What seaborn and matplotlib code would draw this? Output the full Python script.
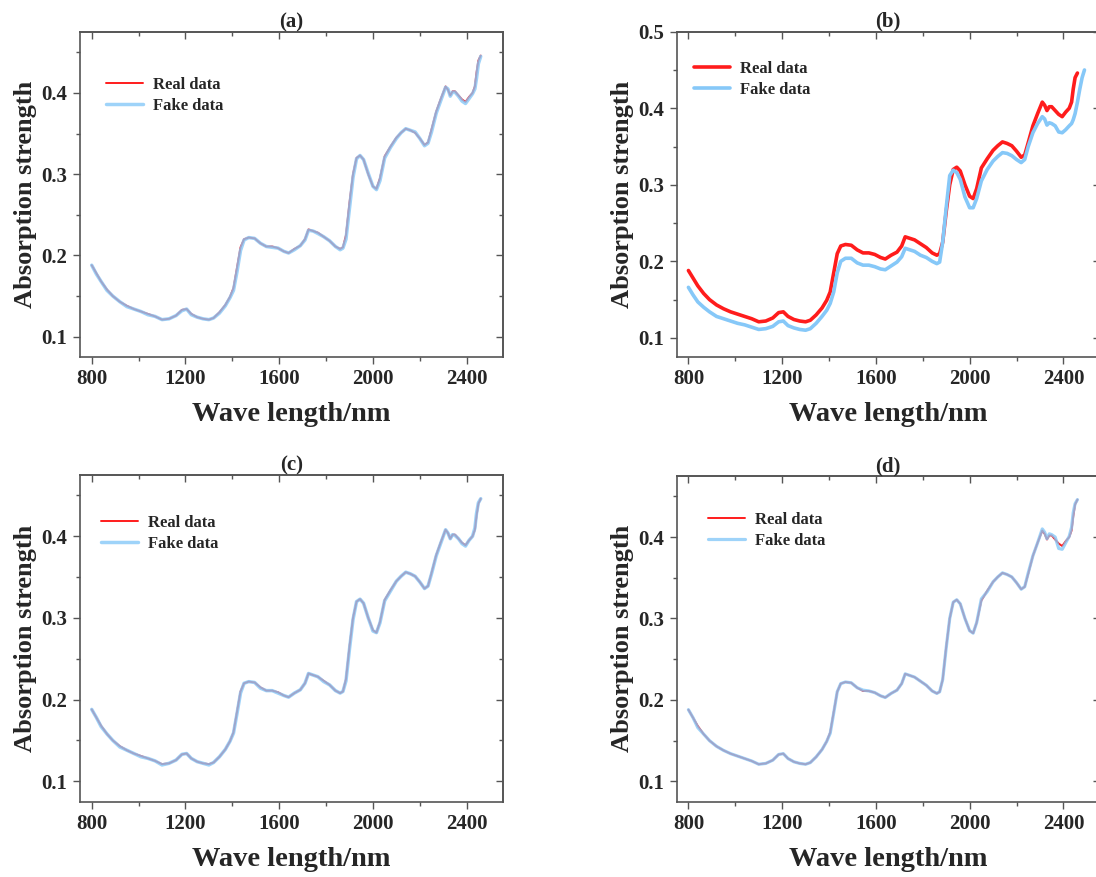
import numpy as np
import pandas as pd
import matplotlib
matplotlib.use("Agg")
import matplotlib.pyplot as plt
from matplotlib.ticker import MultipleLocator
import seaborn as sns

# ---------------- data ----------------
wavelength = [800, 820, 840, 865, 890, 920, 950, 980, 1010, 1040,
              1070, 1100, 1130, 1160, 1185, 1205, 1225, 1250, 1275, 1300,
              1320, 1345, 1370, 1390, 1405, 1420, 1435, 1450, 1470, 1495,
              1520, 1545, 1570, 1595, 1620, 1640, 1665, 1690, 1710, 1725,
              1745, 1765, 1790, 1815, 1840, 1860, 1872, 1885, 1900, 1915,
              1930, 1945, 1960, 1980, 2000, 2015, 2030, 2050, 2075, 2100,
              2120, 2140, 2160, 2180, 2200, 2220, 2235, 2250, 2270, 2290,
              2310, 2320, 2330, 2340, 2350, 2365, 2380, 2395, 2410, 2425,
              2435, 2442, 2450, 2460]

real_data = [0.188, 0.178, 0.168, 0.158, 0.150, 0.143, 0.138, 0.134, 0.131, 0.128,
             0.125, 0.121, 0.122, 0.126, 0.133, 0.134, 0.128, 0.124, 0.122, 0.121,
             0.123, 0.130, 0.139, 0.149, 0.160, 0.185, 0.210, 0.220, 0.222, 0.221,
             0.215, 0.211, 0.211, 0.209, 0.205, 0.203, 0.208, 0.212, 0.220, 0.232,
             0.230, 0.228, 0.223, 0.218, 0.211, 0.208, 0.210, 0.225, 0.265, 0.300,
             0.320, 0.323, 0.318, 0.300, 0.285, 0.282, 0.295, 0.322, 0.334, 0.345,
             0.351, 0.356, 0.354, 0.351, 0.344, 0.336, 0.339, 0.355, 0.377, 0.393,
             0.408, 0.404, 0.397, 0.402, 0.402, 0.397, 0.392, 0.389, 0.395, 0.400,
             0.408, 0.425, 0.440, 0.446]

fake_a = [0.188, 0.177, 0.168, 0.157, 0.150, 0.143, 0.137, 0.134, 0.131, 0.127,
          0.125, 0.121, 0.122, 0.126, 0.132, 0.134, 0.127, 0.124, 0.122, 0.121,
          0.123, 0.129, 0.138, 0.148, 0.157, 0.180, 0.206, 0.219, 0.222, 0.221,
          0.215, 0.211, 0.210, 0.209, 0.205, 0.203, 0.207, 0.212, 0.219, 0.231,
          0.230, 0.227, 0.223, 0.218, 0.211, 0.207, 0.209, 0.220, 0.258, 0.296,
          0.319, 0.323, 0.318, 0.301, 0.285, 0.281, 0.292, 0.320, 0.333, 0.344,
          0.351, 0.356, 0.354, 0.352, 0.344, 0.335, 0.338, 0.352, 0.375, 0.391,
          0.407, 0.405, 0.396, 0.401, 0.401, 0.396, 0.390, 0.387, 0.393, 0.399,
          0.405, 0.418, 0.436, 0.445]

wavelength_b = wavelength + [2470, 2480, 2490]
fake_b = [0.166, 0.156, 0.147, 0.140, 0.134, 0.128, 0.125, 0.122, 0.119, 0.117,
          0.114, 0.111, 0.112, 0.115, 0.121, 0.122, 0.116, 0.113, 0.111, 0.110,
          0.112, 0.119, 0.128, 0.136, 0.145, 0.160, 0.185, 0.200, 0.204, 0.204,
          0.198, 0.195, 0.195, 0.193, 0.190, 0.189, 0.194, 0.199, 0.206, 0.217,
          0.215, 0.213, 0.208, 0.205, 0.200, 0.197, 0.199, 0.225, 0.270, 0.312,
          0.319, 0.316, 0.307, 0.284, 0.270, 0.270, 0.282, 0.305, 0.320, 0.331,
          0.337, 0.342, 0.341, 0.338, 0.333, 0.329, 0.333, 0.350, 0.368, 0.380,
          0.389, 0.386, 0.378, 0.381, 0.380, 0.377, 0.369, 0.368, 0.372, 0.377,
          0.380, 0.385, 0.393, 0.408, 0.425, 0.440, 0.450]

fake_c = [0.188, 0.178, 0.167, 0.158, 0.150, 0.142, 0.138, 0.134, 0.130, 0.128,
          0.125, 0.120, 0.122, 0.126, 0.133, 0.134, 0.128, 0.124, 0.122, 0.120,
          0.123, 0.130, 0.139, 0.149, 0.159, 0.183, 0.208, 0.220, 0.222, 0.221,
          0.214, 0.211, 0.211, 0.208, 0.205, 0.203, 0.208, 0.212, 0.220, 0.232,
          0.230, 0.228, 0.222, 0.218, 0.211, 0.208, 0.210, 0.223, 0.262, 0.298,
          0.320, 0.323, 0.318, 0.300, 0.284, 0.282, 0.294, 0.321, 0.333, 0.345,
          0.351, 0.356, 0.354, 0.351, 0.344, 0.336, 0.339, 0.354, 0.376, 0.392,
          0.408, 0.404, 0.397, 0.402, 0.401, 0.397, 0.391, 0.388, 0.395, 0.400,
          0.410, 0.428, 0.441, 0.446]

fake_d = [0.188, 0.178, 0.166, 0.158, 0.150, 0.143, 0.138, 0.134, 0.131, 0.128,
          0.125, 0.121, 0.122, 0.126, 0.133, 0.134, 0.128, 0.124, 0.122, 0.121,
          0.123, 0.130, 0.139, 0.149, 0.159, 0.184, 0.210, 0.220, 0.222, 0.221,
          0.215, 0.212, 0.211, 0.209, 0.205, 0.203, 0.208, 0.212, 0.220, 0.232,
          0.230, 0.228, 0.223, 0.218, 0.211, 0.208, 0.210, 0.225, 0.264, 0.300,
          0.320, 0.323, 0.318, 0.300, 0.285, 0.282, 0.295, 0.324, 0.333, 0.345,
          0.351, 0.356, 0.354, 0.351, 0.344, 0.336, 0.339, 0.356, 0.377, 0.393,
          0.410, 0.406, 0.398, 0.404, 0.403, 0.400, 0.386, 0.385, 0.393, 0.401,
          0.412, 0.430, 0.441, 0.446]

panel_titles = ["(a)", "(b)", "(c)", "(d)"]
x_ticks = [800, 1200, 1600, 2000, 2400]
series_labels = ["Real data", "Fake data"]
x_label = "Wave length/nm"
y_label = "Absorption strength"

# ---------------- style ----------------
sns.set_style("ticks")
plt.rcParams["font.family"] = ["Liberation Serif", "DejaVu Serif"]
plt.rcParams["font.weight"] = "bold"
plt.rcParams["axes.labelweight"] = "bold"
plt.rcParams["axes.titleweight"] = "bold"

RED = "#ff1c1c"
BLUE = "#86c8f8"
SPINE = "#555555"

fig = plt.figure(figsize=(10.96, 8.77), dpi=100)

W, H = 1096, 877
def frac(left, top, right, bottom):
    return [left / W, 1 - bottom / H, (right - left) / W, (bottom - top) / H]

panels = [
    dict(rect=frac(80, 32, 503, 357), fake_x=wavelength, fake_y=fake_a,
         ylim=(0.075, 0.475), leg=(0.062, 0.863), lw=(1.4, 2.5), alpha=0.8),
    dict(rect=frac(676.7, 31.7, 1099.7, 357), fake_x=wavelength_b, fake_y=fake_b,
         ylim=(0.075, 0.5), leg=(0.04, 0.91), lw=(2.6, 2.6), alpha=1.0),
    dict(rect=frac(80, 475, 503, 801.7), fake_x=wavelength, fake_y=fake_c,
         ylim=(0.075, 0.475), leg=(0.05, 0.878), lw=(1.4, 2.5), alpha=0.8),
    dict(rect=frac(676.7, 476, 1099.7, 801.7), fake_x=wavelength, fake_y=fake_d,
         ylim=(0.075, 0.475), leg=(0.075, 0.89), lw=(1.4, 2.3), alpha=0.8),
]

for title, p in zip(panel_titles, panels):
    ax = fig.add_axes(p["rect"])
    df_real = pd.DataFrame({"wl": wavelength, "val": real_data})
    df_fake = pd.DataFrame({"wl": p["fake_x"], "val": p["fake_y"]})
    sns.lineplot(data=df_real, x="wl", y="val", ax=ax, color=RED,
                 lw=p["lw"][0], label=series_labels[0], estimator=None, sort=False)
    sns.lineplot(data=df_fake, x="wl", y="val", ax=ax, color=BLUE,
                 lw=p["lw"][1], alpha=p["alpha"], label=series_labels[1],
                 estimator=None, sort=False)

    ax.set_xlim(750, 2555)
    ax.set_ylim(*p["ylim"])
    ax.xaxis.set_major_locator(MultipleLocator(400))
    ax.xaxis.set_minor_locator(MultipleLocator(200))
    ax.yaxis.set_major_locator(MultipleLocator(0.1))
    ax.yaxis.set_minor_locator(MultipleLocator(0.05))
    ax.set_xticks(x_ticks)
    ax.tick_params(which="both", direction="out", top=False, right=False,
                   color=SPINE, width=1.0, labelsize=15, pad=4)
    ax.tick_params(which="major", length=5)
    ax.tick_params(which="minor", length=3)
    for lab in ax.get_xticklabels() + ax.get_yticklabels():
        lab.set_fontweight("bold")
    for s in ax.spines.values():
        s.set_color(SPINE)
        s.set_linewidth(1.2)

    # mirrored ticks on top / right pointing inward
    secx = ax.secondary_xaxis("top")
    secx.xaxis.set_major_locator(MultipleLocator(400))
    secx.xaxis.set_minor_locator(MultipleLocator(200))
    secx.tick_params(which="both", direction="in", labeltop=False, color=SPINE, width=1.0)
    secx.tick_params(which="major", length=5)
    secx.tick_params(which="minor", length=3)
    secx.spines["top"].set_color(SPINE)
    secx.spines["top"].set_linewidth(1.2)
    secy = ax.secondary_yaxis("right")
    secy.yaxis.set_major_locator(MultipleLocator(0.1))
    secy.yaxis.set_minor_locator(MultipleLocator(0.05))
    secy.tick_params(which="both", direction="in", labelright=False, color=SPINE, width=1.0)
    secy.tick_params(which="major", length=5)
    secy.tick_params(which="minor", length=3)
    secy.spines["right"].set_color(SPINE)
    secy.spines["right"].set_linewidth(1.2)

    ax.set_xlabel(x_label, fontsize=20.5, fontweight="bold", labelpad=9)
    ax.set_ylabel(y_label, fontsize=19, fontweight="bold", labelpad=3)
    ax.set_title(title, fontsize=15, fontweight="bold", pad=3)

    ax.legend(loc="upper left", bbox_to_anchor=p["leg"], frameon=False,
              prop={"weight": "bold", "size": 12, "family": "Liberation Serif"},
              handlelength=2.2, handletextpad=0.6, labelspacing=0.3,
              borderaxespad=0, borderpad=0)

fig.savefig("out.png", dpi=100)
